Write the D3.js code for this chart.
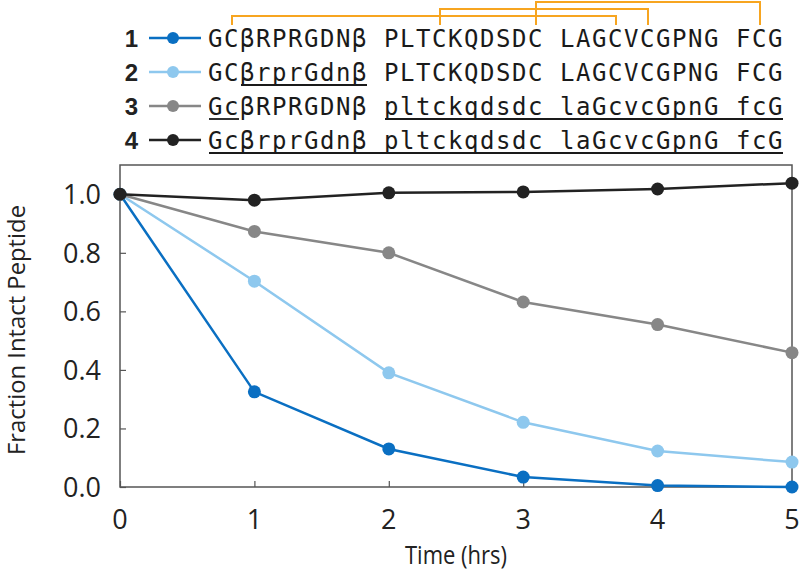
<!DOCTYPE html>
<html>
<head>
<meta charset="utf-8">
<script src="https://cdn.jsdelivr.net/npm/d3@7"></script>
<style>
  body { margin: 0; background: #fff; }
  text { font-family: "Open Sans", sans-serif; fill: #222; }
  .seq { font-family: "DejaVu Sans Mono", monospace; font-size: 24px; fill: #1a1a1a; }
</style>
</head>
<body>
<div id="chart"></div>
<script>
var hours = [0, 1, 2, 3, 4, 5];
var seriesNames = ["1", "2", "3", "4"];
var seriesColors = ["#0a6fc2", "#8ec8ee", "#878787", "#222222"];
var pep1 = [1.0, 0.325, 0.13, 0.034, 0.005, 0.0];
var pep2 = [1.0, 0.703, 0.39, 0.221, 0.123, 0.085];
var pep3 = [1.0, 0.873, 0.80, 0.632, 0.555, 0.459];
var pep4 = [1.0, 0.98, 1.005, 1.008, 1.018, 1.038];
var yTicks = [0, 0.2, 0.4, 0.6, 0.8, 1.0];

// sequences and underlined stretches (char index ranges, inclusive)
var sequences = [
  "GCβRPRGDNβ PLTCKQDSDC LAGCVCGPNG FCG",
  "GCβrprGdnβ PLTCKQDSDC LAGCVCGPNG FCG",
  "GcβRPRGDNβ pltckqdsdc laGcvcGpnG fcG",
  "GcβrprGdnβ pltckqdsdc laGcvcGpnG fcG"
];
var underlines = [[], [[2, 9]], [[0, 1], [11, 35]], [[0, 35]]];
// disulfide bonds: cysteine char index pairs
var bonds = [[1, 25], [14, 27], [20, 34]];

var width = 800, height = 576;
var svg = d3.select("#chart").append("svg")
    .attr("width", width)
    .attr("height", height);

var x = d3.scaleLinear().domain([0, 5]).range([120, 792]);
var y = d3.scaleLinear().domain([0, 1.1]).range([487, 165]);

// frame
svg.append("rect")
    .attr("x", x(0)).attr("y", y(1.1))
    .attr("width", x(5) - x(0)).attr("height", y(0) - y(1.1))
    .style("fill", "none").style("stroke", "#555").style("stroke-width", 1.5);

// axes, ticks pointing inward
var yAxis = svg.append("g")
    .attr("transform", "translate(" + x(0) + ",0)")
    .call(d3.axisRight(y).tickValues(yTicks).tickSize(6).tickFormat(""));
yAxis.select(".domain").remove();
yAxis.selectAll("line").style("stroke", "#555").style("stroke-width", 1.2);

var xAxis = svg.append("g")
    .attr("transform", "translate(0," + y(0) + ")")
    .call(d3.axisTop(x).tickValues(hours).tickSize(6).tickFormat(""));
xAxis.select(".domain").remove();
xAxis.selectAll("line").style("stroke", "#555").style("stroke-width", 1.2);

svg.selectAll(".ylab").data(yTicks).enter().append("text")
    .attr("x", 101).attr("y", function(d) { return y(d); })
    .attr("dy", "0.36em")
    .attr("text-anchor", "end")
    .style("font-size", "27px")
    .text(function(d) { return d3.format(".1f")(d); });

svg.selectAll(".xlab").data(hours).enter().append("text")
    .attr("x", function(d) { return x(d); }).attr("y", 519)
    .attr("dy", "0.36em")
    .attr("text-anchor", "middle")
    .style("font-size", "27px")
    .text(function(d) { return d; });

svg.append("text")
    .attr("x", 456).attr("y", 555)
    .attr("dy", "0.36em")
    .attr("text-anchor", "middle")
    .attr("textLength", 102)
    .attr("lengthAdjust", "spacingAndGlyphs")
    .style("font-size", "26px")
    .text("Time (hrs)");

svg.append("text")
    .attr("transform", "translate(25,330) rotate(-90)")
    .attr("text-anchor", "middle")
    .attr("textLength", 250)
    .attr("lengthAdjust", "spacingAndGlyphs")
    .style("font-size", "23px")
    .text("Fraction Intact Peptide");

// series
var allSeries = [pep1, pep2, pep3, pep4];
var line = d3.line()
    .x(function(d, i) { return x(hours[i]); })
    .y(function(d) { return y(d); });

allSeries.forEach(function(vals, k) {
  var g = svg.append("g");
  g.append("path")
      .attr("d", line(vals))
      .style("fill", "none")
      .style("stroke", seriesColors[k])
      .style("stroke-width", 2.5);
  g.selectAll("circle").data(vals).enter().append("circle")
      .attr("cx", function(d, i) { return x(hours[i]); })
      .attr("cy", function(d) { return y(d); })
      .attr("r", 6.5)
      .style("fill", seriesColors[k]);
});

// legend with sequences
var charW = 16, seqX = 208;
var baseY = d3.scaleLinear().domain([0, 3]).range([47, 149]);
var charX = function(i) { return seqX + i * charW; };

seriesNames.forEach(function(name, k) {
  var base = baseY(k), cy = base - 9;
  svg.append("text")
      .attr("x", 131.5).attr("y", base)
      .attr("text-anchor", "middle")
      .style("font-size", "24px")
      .style("font-weight", "bold")
      .style("font-family", "'Liberation Sans', Arial, sans-serif")
      .text(name);
  svg.append("line")
      .attr("x1", 149).attr("x2", 201).attr("y1", cy).attr("y2", cy)
      .style("stroke", seriesColors[k]).style("stroke-width", 2.5);
  svg.append("circle")
      .attr("cx", 173).attr("cy", cy).attr("r", 6)
      .style("fill", seriesColors[k]);

  var chars = sequences[k].split("");
  svg.append("text")
      .attr("class", "seq")
      .attr("x", chars.map(function(c, i) { return charX(i); }).join(" "))
      .attr("y", base)
      .text(sequences[k]);

  underlines[k].forEach(function(r) {
    svg.append("line")
        .attr("x1", charX(r[0]) + 1).attr("x2", charX(r[1] + 1) - 1)
        .attr("y1", base + 4).attr("y2", base + 4)
        .style("stroke", "#1a1a1a").style("stroke-width", 1.8);
  });
});

// disulfide brackets over sequence 1
var levels = [16, 9, 2];
bonds.forEach(function(b, k) {
  var x1 = charX(b[0]) + charW / 2, x2 = charX(b[1]) + charW / 2;
  svg.append("path")
      .attr("d", "M" + x1 + ",25V" + levels[k] + "H" + x2 + "V25")
      .style("fill", "none")
      .style("stroke", "#f7a520")
      .style("stroke-width", 2);
});
</script>
</body>
</html>
